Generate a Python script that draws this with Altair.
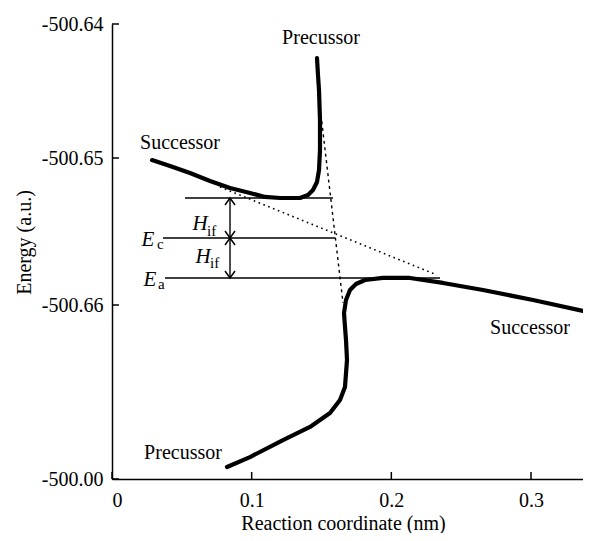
import altair as alt
import pandas as pd

FONT = "Liberation Serif"

# ---- axis ticks ----
y_ticks = [-500.67, -500.66, -500.65, -500.64]
y_tick_pos = [455, 281, 134, 0]          # piecewise scale range (axis drawn unevenly)
x_ticks = [0.0, 0.1, 0.2, 0.3]
x_max = 0.33723

# ---- upper adiabatic curve (successor left branch -> precursor top) ----
upper_x = [0.02864, 0.04153, 0.05585, 0.07017, 0.08449, 0.09881, 0.10955, 0.12028,
           0.13460, 0.14033, 0.14391, 0.14678, 0.14821, 0.14892, 0.14892, 0.14821,
           0.14749, 0.14678]
upper_y = [-500.65014, -500.65054, -500.65102, -500.65156, -500.65204, -500.65238,
           -500.65265, -500.65272, -500.65272, -500.65252, -500.65218, -500.65163,
           -500.65082, -500.64940, -500.64716, -500.64493, -500.64381, -500.64254]

# ---- lower adiabatic curve (precursor bottom -> successor right branch) ----
lower_x = [0.08234, 0.09881, 0.12243, 0.14177, 0.15608, 0.16324, 0.16682, 0.16826,
           0.16754, 0.16682, 0.16611, 0.16754, 0.17040, 0.17470, 0.18114, 0.19403,
           0.21336, 0.23699, 0.26563, 0.30143, 0.33723]
lower_y = [-500.66931, -500.66874, -500.66776, -500.66701, -500.66621, -500.66546,
           -500.66471, -500.66316, -500.66201, -500.66126, -500.66046, -500.65966,
           -500.65898, -500.65857, -500.65830, -500.65816, -500.65816, -500.65850,
           -500.65898, -500.65966, -500.66034]

# ---- diabatic (dotted) extensions ----
succ_dot_x = [0.07733, 0.23270]
succ_dot_y = [-500.65197, -500.65796]
prec_dot_x = [0.14964, 0.16539]
prec_dot_y = [-500.64679, -500.65986]

# ---- horizontal energy levels ----
level_y = [-500.65272, -500.65544, -500.65816]
level_x1 = [0.05227, 0.03652, 0.03795]
level_x2 = [0.15823, 0.15967, 0.23484]

# ---- H_if arrows ----
arrow_x = 0.08449
arrow_tips_y = [-500.65272, -500.65544, -500.65544, -500.65816]
arrow_tips_dir = ["up", "down", "up", "down"]

# ---- labels ----
curve_labels = ["Precussor", "Successor", "Successor", "Precussor"]
curve_label_x = [0.14964, 0.04869, 0.29928, 0.05083]
curve_label_y = [-500.64104, -500.64888, -500.66132, -500.66851]

sym_labels = ["H", "H", "E", "E"]
sym_x = [0.06301, 0.06515, 0.02578, 0.02721]
sym_y = [-500.65449, -500.65673, -500.65558, -500.65830]
sub_labels = ["if", "if", "c", "a"]
sub_x = [0.06802, 0.07017, 0.03222, 0.03294]
sub_y = [-500.65497, -500.65714, -500.65585, -500.65857]

# ================= chart =================
xscale = alt.Scale(domain=[0, x_max], nice=False, zero=False)
yscale = alt.Scale(domain=y_ticks, range=y_tick_pos, nice=False, zero=False)

xaxis = alt.Axis(
    values=x_ticks, labelExpr="datum.value == 0 ? '0' : format(datum.value, '.1f')",
    title="Reaction coordinate (nm)", ticks=False, grid=False, labelFlush=True,
    labelOverlap=False, labelPadding=11, domainColor="black", domainWidth=1.5,
    labelFont=FONT, labelFontSize=20, labelColor="black",
    titleFont=FONT, titleFontSize=20, titleFontWeight="normal", titleColor="black",
    titleX=231, titleY=44, titleBaseline="middle", titleAlign="center",
)
yaxis = alt.Axis(
    values=y_ticks,
    labelExpr="datum.value < -500.665 ? '-500.00' : '-' + format(abs(datum.value), '.2f')",
    title="Energy (a.u.)", ticks=False, grid=False, labelFlush=False,
    labelOverlap=False, labelPadding=9, domainColor="black", domainWidth=1.5,
    labelFont=FONT, labelFontSize=20, labelColor="black",
    titleFont=FONT, titleFontSize=20, titleFontWeight="normal", titleColor="black",
    titleX=-88, titleY=218, titleBaseline="middle", titleAlign="center", titleAngle=-90,
)

X = alt.X("x:Q", scale=xscale, axis=xaxis)
Y = alt.Y("y:Q", scale=yscale, axis=yaxis)

curves = pd.DataFrame({
    "x": upper_x + lower_x,
    "y": upper_y + lower_y,
    "curve": ["upper"] * len(upper_x) + ["lower"] * len(lower_x),
    "i": list(range(len(upper_x))) + list(range(len(lower_x))),
})
dots = pd.DataFrame({
    "x": succ_dot_x + prec_dot_x,
    "y": succ_dot_y + prec_dot_y,
    "seg": ["s", "s", "p", "p"],
    "i": [0, 1, 0, 1],
})
levels = pd.DataFrame({"x": level_x1, "x2": level_x2, "y": level_y})
arrow = pd.DataFrame({"x": [arrow_x], "y": [level_y[0]], "y2": [level_y[2]]})
tips = pd.DataFrame({"x": [arrow_x] * 4, "y": arrow_tips_y, "dir": arrow_tips_dir})
clabels = pd.DataFrame({"x": curve_label_x, "y": curve_label_y, "text": curve_labels})
slabels = pd.DataFrame({"x": sym_x, "y": sym_y, "text": sym_labels})
sublabels = pd.DataFrame({"x": sub_x, "y": sub_y, "text": sub_labels})
yt = pd.DataFrame({"y": y_ticks})
xt = pd.DataFrame({"x": x_ticks})

thick = alt.Chart(curves).mark_line(color="black", strokeWidth=4.2, strokeCap="round",
                                    strokeJoin="round").encode(
    x=X, y=Y, detail="curve:N", order="i:Q")

dotted_s = alt.Chart(dots[dots.seg == "s"]).mark_line(
    color="black", strokeWidth=1.6, strokeDash=[1.6, 3.6]).encode(x=X, y=Y, order="i:Q")
dotted_p = alt.Chart(dots[dots.seg == "p"]).mark_line(
    color="black", strokeWidth=1.4, strokeDash=[3, 3.5]).encode(x=X, y=Y, order="i:Q")

level_rules = alt.Chart(levels).mark_rule(color="black", strokeWidth=1.4).encode(
    x=X, x2="x2:Q", y=Y)
arrow_rule = alt.Chart(arrow).mark_rule(color="black", strokeWidth=1.4).encode(
    x=X, y=Y, y2="y2:Q")
tip_up = alt.Chart(tips[tips.dir == "up"]).mark_point(
    shape="M-1,1.4L0,0L1,1.4", size=100, filled=False, color="black",
    strokeWidth=1.5, opacity=1).encode(x=X, y=Y)
tip_down = alt.Chart(tips[tips.dir == "down"]).mark_point(
    shape="M-1,-1.4L0,0L1,-1.4", size=100, filled=False, color="black",
    strokeWidth=1.5, opacity=1).encode(x=X, y=Y)

ytick_marks = alt.Chart(yt).mark_rule(color="black", strokeWidth=1.5).encode(
    y=Y, x=alt.value(0), x2=alt.value(7))
xtick_marks = alt.Chart(xt).mark_rule(color="black", strokeWidth=1.5).encode(
    x=X, y=alt.value(455), y2=alt.value(448))

ctext = alt.Chart(clabels).mark_text(font=FONT, fontSize=20, color="black",
                                     align="center", baseline="middle").encode(
    x=X, y=Y, text="text:N")
stext = alt.Chart(slabels).mark_text(font=FONT, fontSize=21, fontStyle="italic",
                                     color="black", align="center",
                                     baseline="middle").encode(x=X, y=Y, text="text:N")
subtext = alt.Chart(sublabels).mark_text(font=FONT, fontSize=15, color="black",
                                         align="left", baseline="middle").encode(
    x=X, y=Y, text="text:N")

chart = alt.layer(
    thick, dotted_s, dotted_p, level_rules, arrow_rule, tip_up, tip_down,
    ytick_marks, xtick_marks, ctext, stext, subtext,
).properties(
    width=471, height=455,
    autosize=alt.AutoSizeParams(type="none"),
    padding={"left": 104, "top": 16, "right": 0, "bottom": 54},
    background="white",
).configure_view(stroke=None)

chart.save("out.html", embed_options={"renderer": "svg", "actions": False})
